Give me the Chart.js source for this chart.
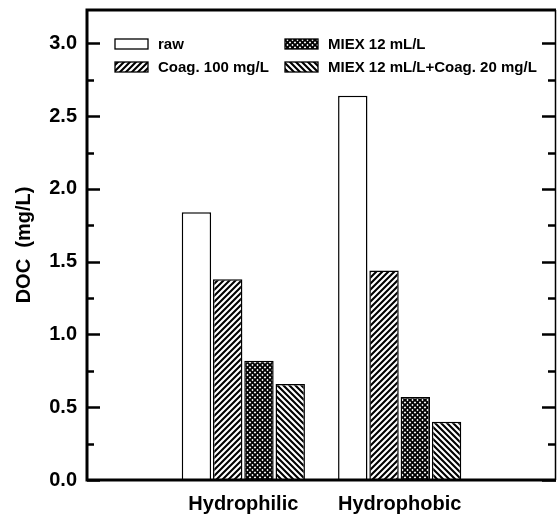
<!DOCTYPE html>
<html>
<head>
<meta charset="utf-8">
<script src="https://cdn.jsdelivr.net/npm/chart.js@4.4.1/dist/chart.umd.min.js"></script>
<style>
  html, body { margin: 0; padding: 0; background: #fff; }
  canvas { display: block; }
</style>
</head>
<body>
<canvas id="docChart" width="557" height="519"></canvas>
<script>
// fractions on the x axis (blank slots at both ends keep the groups centred)
const categories = ['', 'Hydrophilic', 'Hydrophobic', ''];
const seriesNames = ['raw', 'Coag. 100 mg/L', 'MIEX 12 mL/L', 'MIEX 12 mL/L+Coag. 20 mg/L'];

// DOC in mg/L
const rawDOC = [null, 1.84, 2.64, null];
const coagDOC = [null, 1.38, 1.44, null];
const miexDOC = [null, 0.82, 0.57, null];
const miexCoagDOC = [null, 0.66, 0.40, null];

const yMajorTicks = [0.0, 0.5, 1.0, 1.5, 2.0, 2.5, 3.0];
const yMinorTicks = [0.25, 0.75, 1.25, 1.75, 2.25, 2.75, 3.25];
const yMax = 3.23;

const FONT = 'Arial, "Liberation Sans", sans-serif';

// hatch patterns for the bars
function makePattern(kind) {
    if (kind === 'none') return '#fff';
    const s = kind === 'cross' ? 5 : 6;
    const c = document.createElement('canvas');
    c.width = s;
    c.height = s;
    const g = c.getContext('2d');
    g.fillStyle = '#fff';
    g.fillRect(0, 0, s, s);
    g.strokeStyle = '#000';
    g.lineCap = 'square';
    g.lineWidth = kind === 'cross' ? 1.9 : 2.1;
    if (kind === 'fwd' || kind === 'cross') {
        g.beginPath();
        g.moveTo(-1, s + 1); g.lineTo(s + 1, -1);
        g.moveTo(-1, 1); g.lineTo(1, -1);
        g.moveTo(s - 1, s + 1); g.lineTo(s + 1, s - 1);
        g.stroke();
    }
    if (kind === 'back' || kind === 'cross') {
        g.beginPath();
        g.moveTo(-1, -1); g.lineTo(s + 1, s + 1);
        g.moveTo(s - 1, -1); g.lineTo(s + 1, 1);
        g.moveTo(-1, s - 1); g.lineTo(1, s + 1);
        g.stroke();
    }
    return g.createPattern(c, 'repeat');
}

const fills = [makePattern('none'), makePattern('fwd'), makePattern('cross'), makePattern('back')];
const values = [rawDOC, coagDOC, miexDOC, miexCoagDOC];

// frame, inward ticks, legend and y title
const decorPlugin = {
    id: 'decor',
    afterDraw(chart) {
        const ctx = chart.ctx;
        const a = chart.chartArea;
        const y = chart.scales.y;
        ctx.save();
        ctx.strokeStyle = '#000';

        // ticks
        ctx.lineWidth = 2.5;
        const tick = (v, len) => {
            if (v > yMax) return;
            const py = Math.round(y.getPixelForValue(v)) + 0.5;
            ctx.beginPath();
            ctx.moveTo(a.left, py); ctx.lineTo(a.left + len, py);
            ctx.moveTo(a.right, py); ctx.lineTo(a.right - len - 1, py);
            ctx.stroke();
        };
        yMajorTicks.forEach(v => tick(v, 13));
        yMinorTicks.forEach(v => tick(v, 7));

        // frame
        ctx.lineWidth = 3;
        ctx.beginPath();
        ctx.moveTo(a.right, a.top); ctx.lineTo(a.left, a.top);
        ctx.lineTo(a.left, a.bottom); ctx.lineTo(a.right, a.bottom);
        ctx.stroke();
        ctx.lineWidth = 1.5;
        ctx.beginPath();
        ctx.moveTo(a.right - 0.5, a.top); ctx.lineTo(a.right - 0.5, a.bottom);
        ctx.stroke();

        // legend, two columns
        const spots = [[115, 44], [115, 67], [285, 44], [285, 67]];
        ctx.font = 'bold 15px ' + FONT;
        ctx.textBaseline = 'middle';
        chart.data.datasets.forEach((ds, i) => {
            const [lx, ly] = spots[i];
            ctx.fillStyle = ds.backgroundColor;
            ctx.fillRect(lx, ly - 5, 33, 10);
            ctx.lineWidth = 1.3;
            ctx.strokeRect(lx, ly - 5, 33, 10);
            ctx.fillStyle = '#000';
            ctx.fillText(ds.label, lx + 43, ly + 0.5);
        });

        // y title
        ctx.translate(24, 245);
        ctx.rotate(-Math.PI / 2);
        ctx.font = 'bold 20px ' + FONT;
        ctx.textAlign = 'center';
        ctx.textBaseline = 'middle';
        ctx.fillText('DOC  (mg/L)', 0, 0);
        ctx.restore();
    }
};

new Chart(document.getElementById('docChart'), {
    type: 'bar',
    data: {
        labels: categories,
        datasets: seriesNames.map((name, i) => ({
            label: name,
            data: values[i],
            backgroundColor: fills[i],
            borderColor: '#000',
            borderWidth: 1.5,
            categoryPercentage: 0.8,
            barPercentage: 0.94
        }))
    },
    options: {
        responsive: false,
        animation: false,
        devicePixelRatio: 1,
        layout: { padding: { left: 0, top: 10, right: 1, bottom: 0 } },
        plugins: {
            legend: { display: false },
            tooltip: { enabled: false }
        },
        scales: {
            x: {
                offset: false,
                grid: { display: false, drawTicks: false },
                border: { display: false },
                ticks: {
                    autoSkip: false,
                    maxRotation: 0,
                    padding: 12,
                    color: '#000',
                    font: { family: FONT, size: 20, weight: 'bold' }
                },
                afterFit(s) {
                    s.height = 39;
                    s.paddingLeft = 0;
                    s.paddingRight = 0;
                }
            },
            y: {
                min: 0,
                max: yMax,
                grid: { display: false, drawTicks: false },
                border: { display: false },
                afterBuildTicks(s) { s.ticks = yMajorTicks.map(v => ({ value: v })); },
                ticks: {
                    padding: 10,
                    color: '#000',
                    font: { family: FONT, size: 20, weight: 'bold' },
                    callback: v => v.toFixed(1)
                },
                afterFit(s) {
                    s.width = 87;
                    s.paddingTop = 0;
                    s.paddingBottom = 0;
                }
            }
        }
    },
    plugins: [decorPlugin]
});
</script>
</body>
</html>
